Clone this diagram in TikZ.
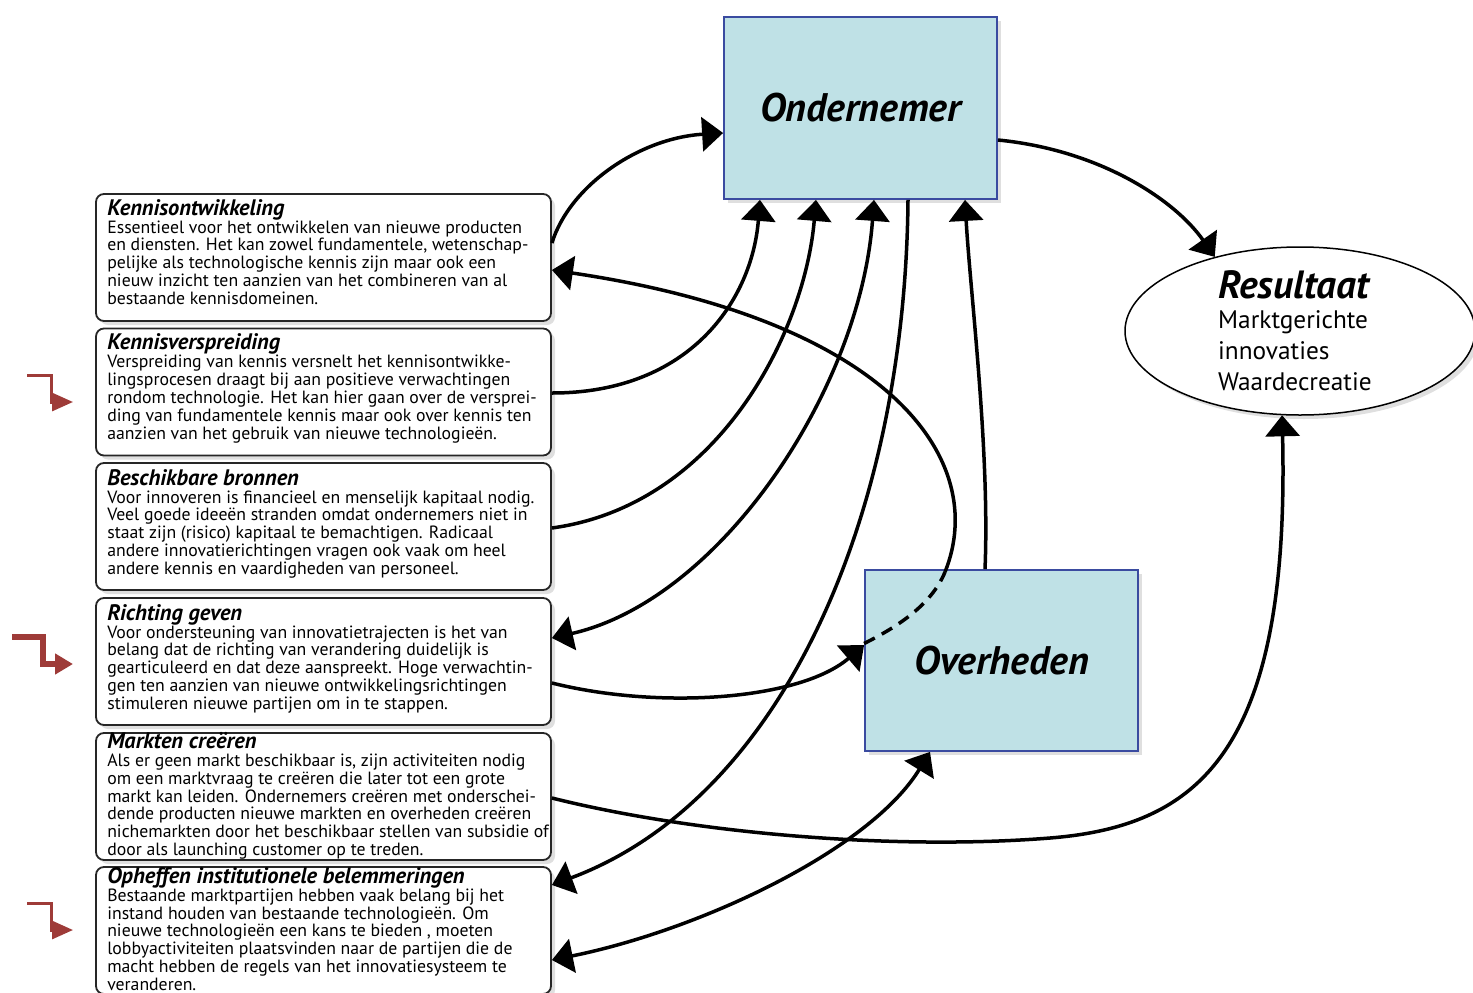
\documentclass[tikz,border=0pt]{standalone}
\usepackage{fontspec}
\setmainfont{PT Sans}
\usetikzlibrary{arrows.meta,shadows,shapes.geometric}
\definecolor{boxblue}{HTML}{BFE1E6}
\definecolor{boxedge}{HTML}{3A4BA0}
\definecolor{redarrow}{HTML}{9E3B38}
\newcommand\bxtitle[1]{{\fontsize{22.5}{18}\selectfont\bfseries\itshape #1}}
\begin{document}
\begin{tikzpicture}[x=1bp,y=-1bp,
  infobox/.style={draw=black!85, line width=1.8bp, rounded corners=8bp, fill=white,
    minimum width=455bp, minimum height=127bp, inner sep=0pt,
    drop shadow={opacity=0.25, shadow xshift=4bp, shadow yshift=-4bp}},
  actor/.style={draw=boxedge, line width=1.8bp, fill=boxblue, minimum width=273bp,
    minimum height=182bp, inner sep=0pt,
    drop shadow={opacity=0.25, shadow xshift=4bp, shadow yshift=-4bp},
    font=\fontsize{40}{44}\selectfont\bfseries\itshape},
  bodytxt/.style={anchor=base west, inner sep=0pt, font=\fontsize{17.8}{18}\selectfont},
  link/.style={line width=3.5bp, -{Triangle[length=21bp,width=34bp]}},
  dlink/.style={line width=3.5bp, {Triangle[length=21bp,width=34bp]}-{Triangle[length=21bp,width=34bp]}},
  redthin/.style={draw=redarrow, line width=3bp, -{Triangle[length=21bp,width=18bp]}},
  redthick/.style={draw=redarrow, line width=6bp, -{Triangle[length=18bp,width=20bp]}}
]
\useasboundingbox (0,0) rectangle (1473,992);
\clip (0,0) rectangle (1473,992);

% left info boxes
\node[infobox] (k1) at (323.5,257.5) {};
\node[infobox] (k2) at (323.5,392) {};
\node[infobox] (k3) at (323.5,526.5) {};
\node[infobox] (k4) at (323.5,661.5) {};
\node[infobox] (k5) at (323.5,796.5) {};
\node[infobox] (k6) at (323.5,930.5) {};

\node[bodytxt] (t1) at ([xshift=12bp,yshift=-22bp]k1.north west) {\begin{tabular}[t]{@{}l@{}}
\bxtitle{Kennisontwikkeling}\\
Essentieel voor het ontwikkelen van nieuwe producten\\
en diensten. Het kan zowel fundamentele, wetenschap-\\
pelijke als technologische kennis zijn maar ook een\\
nieuw inzicht ten aanzien van het combineren van al\\
bestaande kennisdomeinen.\end{tabular}};

\node[bodytxt] (t2) at ([xshift=12bp,yshift=-22bp]k2.north west) {\begin{tabular}[t]{@{}l@{}}
\bxtitle{Kennisverspreiding}\\
Verspreiding van kennis versnelt het kennisontwikke-\\
lingsprocesen draagt bij aan positieve verwachtingen\\
rondom technologie. Het kan hier gaan over de versprei-\\
ding van fundamentele kennis maar ook over kennis ten\\
aanzien van het gebruik van nieuwe technologieën.\end{tabular}};

\node[bodytxt] (t3) at ([xshift=12bp,yshift=-23bp]k3.north west) {\begin{tabular}[t]{@{}l@{}}
\bxtitle{Beschikbare bronnen}\\
Voor innoveren is financieel en menselijk kapitaal nodig.\\
Veel goede ideeën stranden omdat ondernemers niet in\\
staat zijn (risico) kapitaal te bemachtigen. Radicaal\\
andere innovatierichtingen vragen ook vaak om heel\\
andere kennis en vaardigheden van personeel.\end{tabular}};

\node[bodytxt] (t4) at ([xshift=12bp,yshift=-23bp]k4.north west) {\begin{tabular}[t]{@{}l@{}}
\bxtitle{Richting geven}\\
Voor ondersteuning van innovatietrajecten is het van\\
belang dat de richting van verandering duidelijk is\\
gearticuleerd en dat deze aanspreekt. Hoge verwachtin-\\
gen ten aanzien van nieuwe ontwikkelingsrichtingen\\
stimuleren nieuwe partijen om in te stappen.\end{tabular}};

\node[bodytxt] (t5) at ([xshift=12bp,yshift=-16bp]k5.north west) {\begin{tabular}[t]{@{}l@{}}
\bxtitle{Markten creëren}\\
Als er geen markt beschikbaar is, zijn activiteiten nodig\\
om een marktvraag te creëren die later tot een grote\\
markt kan leiden. Ondernemers creëren met onderschei-\\
dende producten nieuwe markten en overheden creëren\\
nichemarkten door het beschikbaar stellen van subsidie of\\
door als launching customer op te treden.\end{tabular}};

\node[bodytxt] (t6) at ([xshift=12bp,yshift=-17bp]k6.north west) {\begin{tabular}[t]{@{}l@{}}
\bxtitle{Opheffen institutionele belemmeringen}\\
Bestaande marktpartijen hebben vaak belang bij het\\
instand houden van bestaande technologieën. Om\\
nieuwe technologieën een kans te bieden , moeten\\
lobbyactiviteiten plaatsvinden naar de partijen die de\\
macht hebben de regels van het innovatiesysteem te\\
veranderen.\end{tabular}};

% actors
\node[actor] (O) at (860.5,108) {Ondernemer};
\node[actor, minimum height=181bp] (V) at (1001.5,660.5) {Overheden};
\node[ellipse, draw=black, line width=1.5bp, fill=white, minimum width=350bp, minimum height=168bp,
  inner sep=0pt, drop shadow={opacity=0.25, shadow xshift=4bp, shadow yshift=-4bp}] (R) at (1300,331) {};
\node[anchor=base west, inner sep=0pt, font=\fontsize{25.4}{31}\selectfont] (rt) at (1218,298)
  {\begin{tabular}[t]{@{}l@{}}{\fontsize{39.5}{31}\selectfont\bfseries\itshape Resultaat}\\
  Marktgerichte\\ innovaties\\ Waardecreatie\end{tabular}};

% connectors
\draw[link] ([yshift=14.5bp]k1.east) .. controls (570,185) and (640,138) .. ([yshift=-25bp]O.west);
\draw[link] ([yshift=-32bp]O.east) .. controls (1100,150) and (1175,200) .. (R.139);
\draw[link] ([yshift=-1bp]k2.east) .. controls (690,393) and (752,300) .. ([xshift=-100.5bp]O.south);
\draw[link] ([yshift=-1.5bp]k3.east) .. controls (720,505) and (805,330) .. ([xshift=-44.5bp]O.south);
\draw[dlink] ([yshift=23.5bp]k4.east) .. controls (720,600) and (860,390) .. ([xshift=13.5bp]O.south);
\draw[link] ([xshift=47.5bp]O.south) .. controls (905,520) and (780,800) .. ([yshift=45.5bp]k6.east);
\draw[link] ([xshift=-16.5bp]V.north) .. controls (990,450) and (970,290) .. ([xshift=104.5bp]O.south);
\draw[link] ([yshift=-21.5bp]k4.east) .. controls (660,710) and (800,700) .. ([yshift=15.5bp]V.west);
\coordinate (dashend) at (945,572);
\draw[line width=3.5bp, dash pattern=on 12bp off 8bp] ([yshift=17bp]V.west) .. controls (895,628) and (931,606) .. (dashend);
\draw[link] (dashend) .. controls (990,460) and (890,320) .. ([yshift=-12.5bp]k1.east);
\draw[link] ([yshift=-1.5bp]k5.east) .. controls (700,835) and (900,850) .. (1050,838)
  .. controls (1200,826) and (1290,750) .. (R.258);
\draw[dlink] ([yshift=-29.5bp]k6.east) .. controls (700,930) and (870,850) .. ([xshift=-71.5bp]V.south);

% red margin arrows
\draw[redthin] (27,375) -- (51,375) -- (51,402) -- (73,402);
\draw[redthick] (12,637) -- (43,637) -- (43,664) -- (73,664);
\draw[redthin] (27,903) -- (51,903) -- (51,930) -- (73,930);
\end{tikzpicture}
\end{document}
